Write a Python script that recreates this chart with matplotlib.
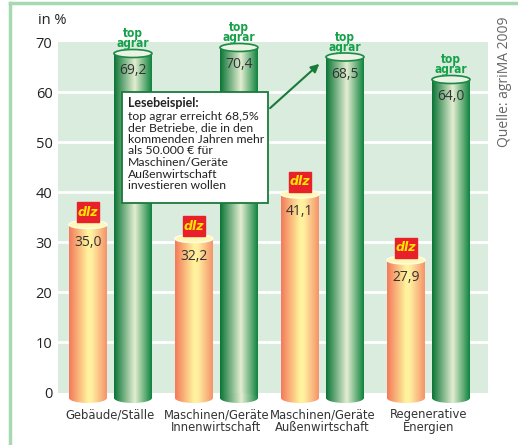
import numpy as np
import matplotlib
matplotlib.use("Agg")
import matplotlib.pyplot as plt
from matplotlib.colors import LinearSegmentedColormap
from matplotlib.patches import Ellipse, Rectangle
from matplotlib.lines import Line2D

categories = ["Gebäude/Ställe", "Maschinen/Geräte\nInnenwirtschaft",
              "Maschinen/Geräte\nAußenwirtschaft", "Regenerative\nEnergien"]
dlz = [35.0, 32.2, 41.1, 27.9]
top_agrar = [69.2, 70.4, 68.5, 64.0]
yticks = [0, 10, 20, 30, 40, 50, 60, 70]
note_title = "Lesebeispiel:"
note_body = ("top agrar erreicht 68,5%\nder Betriebe, die in den\nkommenden Jahren mehr\n"
             "als 50.000 € für\nMaschinen/Geräte\nAußenwirtschaft\ninvestieren wollen")
source = "Quelle: agriMA 2009"

W, H = 518, 445
fig = plt.figure(figsize=(W / 100, H / 100), dpi=100)
# axes placed in pixels: x 58..488, y(70)=42, y(-2.5)=404.5
ax = fig.add_axes([58 / W, (H - 404.5) / H, 430 / W, 362.5 / H])
ax.set_xlim(-0.495, -0.495 + 430 / 106)
ax.set_ylim(-2.5, 70)
ax.set_facecolor("none")
for s in ax.spines.values():
    s.set_visible(False)

# panel + grid
ax.axhspan(-0.1, 70, color="#d9ecdd", zorder=0, lw=0)
for t in yticks[1:-1]:
    ax.axhline(t, color="white", lw=2, zorder=1)
ax.set_yticks(yticks)
ax.set_yticklabels([str(t) for t in yticks], fontsize=10.5, color="#222222",
                   family=["Open Sans", "DejaVu Sans"])
ax.tick_params(axis="y", length=0, pad=4)
ax.set_xticks([])

orange_cm = LinearSegmentedColormap.from_list(
    "or", [(0, "#f47a5a"), (0.5, "#fff39c"), (0.6, "#fff0a0"), (1, "#f6946a")])
green_cm = LinearSegmentedColormap.from_list(
    "gr", [(0, "#0b7536"), (0.55, "#e4eed2"), (1, "#10843f")])

x = np.arange(len(categories))
bw = 38 / 106
off = 22.5 / 106
grad = np.linspace(0, 1, 100).reshape(1, -1)
CAP = 1.5  # top ellipse centre sits this far below the value


def cylinder(xc, v, cmap, topcol, edgecol):
    bars = ax.bar([xc], [v - CAP + 1.2], bottom=-1.2, width=bw, color="none", lw=0, zorder=2)
    body = bars[0]
    x0, x1 = xc - bw / 2, xc + bw / 2
    im = ax.imshow(grad, cmap=cmap, extent=[x0, x1, -2.4, v], aspect="auto", zorder=2)
    im.set_clip_path(body)
    bot = Ellipse((xc, -1.2), bw, 2.0, color="none", lw=0, zorder=2)
    ax.add_patch(bot)
    im2 = ax.imshow(grad, cmap=cmap, extent=[x0, x1, -2.4, v], aspect="auto", zorder=2)
    im2.set_clip_path(bot)
    ax.add_patch(Ellipse((xc, v - CAP), bw, 1.6, facecolor=topcol, edgecolor=edgecol,
                         lw=1.2, zorder=3))


cat_font = dict(family="DejaVu Sans", fontstretch="condensed")

for i in range(len(categories)):
    xo, xg = x[i] - off, x[i] + off
    cylinder(xo, dlz[i], orange_cm, "#fff7b4", "#fffbe0")
    cylinder(xg, top_agrar[i], green_cm, "#eaf3e4", "#1c8a46")
    ax.text(xo, dlz[i] - 5.0, f"{dlz[i]:.1f}".replace(".", ","), ha="center", va="center",
            fontsize=10, color="#333333", zorder=4, family=["Open Sans", "DejaVu Sans"])
    ax.text(xg, top_agrar[i] - 5.0, f"{top_agrar[i]:.1f}".replace(".", ","), ha="center",
            va="center", fontsize=10, color="#333333", zorder=4,
            family=["Open Sans", "DejaVu Sans"])
    # dlz logo
    ax.add_patch(Rectangle((xo - 0.104, dlz[i] - 1.0), 0.208, 4.0, color="#e8202a", zorder=5))
    ax.text(xo, dlz[i] + 1.0, "dlz", ha="center", va="center", fontsize=9,
            fontweight="bold", style="italic", color="#ffe600", zorder=6)
    # top agrar logo
    ax.text(xg, top_agrar[i] - 0.9, "top\nagrar", ha="center", va="bottom", fontsize=8.5,
            fontweight="heavy", color="#17a04a", linespacing=0.7, zorder=6,
            family=["DejaVu Sans"], fontstretch="condensed")
    ax.text(x[i], -3.2, categories[i], ha="center", va="top", fontsize=9.3, color="#333333",
            linespacing=1.0, clip_on=False, **cat_font)

# reading example box
bx0 = (122 - 58) / 106 - 0.495
bx1 = (268 - 58) / 106 - 0.495
ax.add_patch(Rectangle((bx0, 37.8), bx1 - bx0, 22.2, facecolor="white",
                       edgecolor="#1a7a3a", lw=1.3, zorder=7))
ax.text(bx0 + 0.055, 59.0, note_title, ha="left", va="top", fontsize=9, fontweight="bold",
        color="#222222", zorder=8, family=["Lato", "DejaVu Sans"])
ax.text(bx0 + 0.055, 56.3, note_body, ha="left", va="top", fontsize=8.8, color="#222222",
        linespacing=1.07, zorder=8, family=["Lato", "DejaVu Sans"])
ax.annotate("", xy=(1.99, 66.0), xytext=(bx1, 56.4),
            arrowprops=dict(arrowstyle="-|>", color="#1a7a3a", lw=1.5, mutation_scale=12),
            zorder=8)

fig.text(38 / W, 1 - 20 / H, "in %", ha="left", va="center", fontsize=10.5, color="#222222",
         family=["Open Sans", "DejaVu Sans"])
fig.text(505 / W, 1 - 82 / H, source, rotation=90, ha="center", va="center", fontsize=10,
         color="#666666", family=["Open Sans", "DejaVu Sans"])

# outer frame lines
fig.add_artist(Line2D([10 / W, 1], [1 - 3 / H, 1 - 3 / H], color="#a6d8b2", lw=2.5))
fig.add_artist(Line2D([10 / W, 10 / W], [0, 1 - 3 / H], color="#a6d8b2", lw=2.5))

fig.savefig("out.png", dpi=100)
